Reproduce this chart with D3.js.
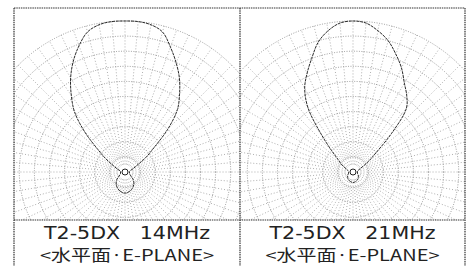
<!DOCTYPE html>
<html><head><meta charset="utf-8">
<script src="https://cdn.jsdelivr.net/npm/d3@7"></script>
<style>body{margin:0;background:#fff}svg{display:block}</style>
</head><body><svg id="c" width="472" height="266"></svg>
<script>
// ---- data ----
const panels = ["14MHz", "21MHz"];
const titles = ["T2-5DX\u00a0\u00a0\u00a014MHz", "T2-5DX\u00a0\u00a0\u00a021MHz"];
const subtitle = "<水平面·E-PLANE>";
// pattern angles (deg, clockwise from forward/up)
const angles = [-180,-165,-150,-135,-120,-105,-90,-80,-70,-60,-55,-50,-45,-40,-35,-30,-25,-20,-15,-10,-5,0,5,10,15,20,25,30,35,40,45,50,55,60,70,80,90,105,120,135,150,165,180];
// relative field (0..1)
const gain14 = [0.14,0.13,0.11,0.08,0.04,0.03,0.03,0.03,0.05,0.10,0.16,0.24,0.38,0.52,0.62,0.72,0.81,0.89,0.96,0.99,1.0,1.0,1.0,0.99,0.96,0.88,0.80,0.72,0.63,0.54,0.40,0.25,0.17,0.10,0.05,0.03,0.03,0.03,0.04,0.08,0.11,0.13,0.14];
const gain21 = [0.07,0.065,0.06,0.05,0.04,0.03,0.03,0.03,0.04,0.07,0.10,0.13,0.20,0.33,0.52,0.64,0.72,0.80,0.89,0.95,0.99,1.0,0.99,0.95,0.90,0.83,0.76,0.68,0.62,0.55,0.36,0.20,0.13,0.08,0.04,0.03,0.03,0.03,0.04,0.05,0.06,0.065,0.07];
const gains = [gain14, gain21];
const gridRings = [0.1,0.2,0.3,0.4,0.5,0.6,0.7,0.8,0.9,1.0];
const gridSpokeStep = 5;

// ---- layout ----
const svg = d3.select("#c");
const frame = {left:14, top:8, mid:240, right:465, plotBottom:220, bottom:266};
const R = 151;
const centers = [[125,172],[353,172]];
const r = d3.scaleLinear().domain([0,1]).range([0,R]);

const defs = svg.append("defs");
const clipsX = [[frame.left, frame.mid],[frame.mid, frame.right]];
clipsX.forEach((cx,i)=>{
  defs.append("clipPath").attr("id","clip"+i).append("rect")
    .attr("x",cx[0]).attr("y",frame.top).attr("width",cx[1]-cx[0]).attr("height",frame.plotBottom-frame.top);
});

panels.forEach((p,i)=>{
  const [cx,cy] = centers[i];
  const g = svg.append("g").attr("clip-path",`url(#clip${i})`)
    .append("g").attr("transform",`translate(${cx},${cy})`);
  // rings
  g.selectAll("circle.ring").data(gridRings).join("circle")
    .attr("r",d=>r(d)).attr("fill","none")
    .attr("stroke","#808080").attr("stroke-width",0.8).attr("stroke-dasharray","1,1.5");
  // spokes
  const spokes = d3.range(0,360,gridSpokeStep);
  g.selectAll("line.spoke").data(spokes).join("line")
    .attr("x1",d=>r(d%10===0?0.05:0.1)*Math.sin(d*Math.PI/180))
    .attr("y1",d=>-r(d%10===0?0.05:0.1)*Math.cos(d*Math.PI/180))
    .attr("x2",d=>r(1)*Math.sin(d*Math.PI/180))
    .attr("y2",d=>-r(1)*Math.cos(d*Math.PI/180))
    .attr("stroke","#8c8c8c").attr("stroke-width",0.7).attr("stroke-dasharray","1,2");
  // pattern
  const pts = angles.map((a,k)=>[a*Math.PI/180, r(gains[i][k])]);
  const line = d3.lineRadial().angle(d=>d[0]).radius(d=>d[1]).curve(d3.curveCatmullRomClosed);
  g.append("path").datum(pts.slice(0,-1)).attr("d",line)
    .attr("fill","none").attr("stroke","#2a2a2a").attr("stroke-width",1).attr("stroke-dasharray","3,0.8");
  g.append("circle").attr("r",3).attr("fill","#fff").attr("stroke","#222").attr("stroke-width",1);
  // text
  const tx = (clipsX[i][0]+clipsX[i][1])/2;
  svg.append("text").attr("x",tx).attr("y",239).attr("text-anchor","middle")
    .attr("font-family","'DejaVu Sans', sans-serif").attr("font-size",17.5).attr("fill","#222")
    .attr("textLength",166).attr("lengthAdjust","spacingAndGlyphs")
    .text(titles[i]);
  svg.append("text").attr("x",tx).attr("y",261).attr("text-anchor","middle")
    .attr("font-family","'Noto Sans CJK JP', 'Noto Sans', sans-serif").attr("font-size",15.5).attr("fill","#222")
    .attr("textLength",174).attr("lengthAdjust","spacingAndGlyphs")
    .text(subtitle);
});

// frame
const fr = svg.append("g").attr("stroke","#333").attr("stroke-width",1.2).attr("stroke-dasharray","1.5,0.8").attr("fill","none");
fr.append("line").attr("x1",frame.left).attr("x2",frame.right).attr("y1",frame.top).attr("y2",frame.top);
fr.append("line").attr("x1",frame.left).attr("x2",frame.right).attr("y1",frame.plotBottom).attr("y2",frame.plotBottom);
[frame.left, frame.mid, frame.right].forEach(x=>{
  fr.append("line").attr("x1",x).attr("x2",x).attr("y1",frame.top).attr("y2",frame.bottom);
});
</script></body></html>
